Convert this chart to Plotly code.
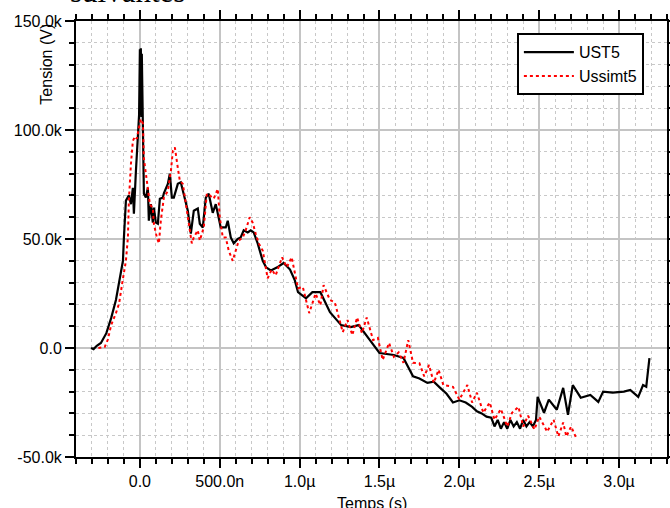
import plotly.graph_objects as go

# time in microseconds, voltage in kV
ust5_t = [-0.306, -0.29, -0.27, -0.244, -0.21, -0.18, -0.15, -0.13, -0.115, -0.106, -0.1, -0.0875,
          -0.069, -0.056, -0.044, -0.0375, -0.025, -0.0125, -0.005, 0.0, 0.003, 0.006, 0.009, 0.012,
          0.019, 0.025, 0.0375, 0.05, 0.056, 0.069, 0.081, 0.0875, 0.1, 0.1125, 0.125, 0.144, 0.15,
          0.175, 0.1875, 0.2, 0.2125, 0.2375, 0.256, 0.275, 0.3, 0.319, 0.3375, 0.3625, 0.375, 0.394,
          0.4125, 0.431, 0.456, 0.475, 0.4875, 0.506, 0.5375, 0.55, 0.569, 0.5875, 0.6125, 0.631, 0.65,
          0.675, 0.694, 0.7125, 0.7375, 0.769, 0.79, 0.82, 0.86, 0.9, 0.94, 0.97, 0.99, 1.04, 1.08,
          1.13, 1.19, 1.26, 1.32, 1.37, 1.44, 1.5, 1.59, 1.65, 1.71, 1.75, 1.8, 1.84, 1.88, 1.92, 1.96,
          2.0, 2.04, 2.08, 2.11, 2.14, 2.17,
          2.2, 2.22, 2.24, 2.26, 2.28, 2.3, 2.32, 2.34, 2.36, 2.38, 2.4, 2.42, 2.44, 2.46, 2.48,
          2.49, 2.53, 2.56, 2.61, 2.65, 2.68, 2.71, 2.76, 2.82, 2.87, 2.9, 2.96, 3.03, 3.07, 3.12,
          3.15, 3.17, 3.19]
ust5_v = [0, -0.5, 1, 2.3, 6.8, 13.7, 22, 31, 36, 40, 50.7, 67.6,
          70, 66, 73.5, 61.6, 81, 96, 107, 137, 110, 137.5, 106, 135,
          108.7, 70.8, 69, 73.5, 58.4, 66, 57.5, 64.4, 57.5, 57, 68.5, 69, 71,
          75.3, 80, 69, 69, 75.3, 76, 70.8, 63, 52.5, 63, 64, 57, 55.3,
          69, 70.8, 62, 66, 61.6, 55.3, 55.3, 58.4, 50.7, 48, 50, 50.7, 54,
          53, 54, 53, 48, 40, 37, 35.6, 37, 39, 36, 31, 25.6, 22.8, 25.6,
          25.6, 16.4, 10.5, 9.6, 10.5, 3.6, -2.3, -3.2, -4.6, -13, -14, -16, -15.5, -18.3, -21, -25,
          -24, -25, -27, -29, -30, -31.5,
          -32, -36, -33, -37, -34, -37, -33, -36, -34, -37, -33, -36, -34, -36, -33,
          -22.4, -29.7, -23.7, -28.3, -18.3, -30.6, -17, -22.8, -21.5, -24.7, -20, -20.5, -20, -19.2, -22.4,
          -17, -17.8, -4.6]

ussimt5_t = [-0.26, -0.22, -0.2, -0.18, -0.15, -0.13, -0.11, -0.0875, -0.075, -0.069, -0.056, -0.044,
             -0.031, -0.019, -0.006, 0.006, 0.019, 0.025, 0.0375, 0.05, 0.0625, 0.081, 0.0875, 0.106,
             0.119, 0.131, 0.15, 0.175, 0.194, 0.206, 0.219, 0.2375, 0.25, 0.269, 0.281, 0.3, 0.3125,
             0.325, 0.3375, 0.3625, 0.375, 0.4, 0.419, 0.4375, 0.4625, 0.4875, 0.5, 0.519, 0.5375, 0.556,
             0.581, 0.6, 0.619, 0.644, 0.6625, 0.6875, 0.706, 0.725, 0.744, 0.769, 0.8, 0.825, 0.85,
             0.89, 0.92, 0.95, 0.99, 1.02, 1.06, 1.1, 1.13, 1.15, 1.19, 1.22, 1.27, 1.3, 1.33, 1.36,
             1.39, 1.42, 1.46, 1.49, 1.52, 1.56, 1.59, 1.62, 1.65, 1.68, 1.71, 1.75, 1.78, 1.81, 1.84,
             1.87, 1.9, 1.96, 2.0, 2.05, 2.08, 2.11, 2.15, 2.19, 2.22, 2.26, 2.3, 2.33, 2.37, 2.4, 2.43,
             2.47, 2.5, 2.55, 2.59, 2.62, 2.65, 2.67, 2.7, 2.73]
ussimt5_v = [0, 0.5, 4, 10.5, 16, 20.5, 30, 40, 50.7, 67.6, 84.5, 95,
             97, 96, 101, 105, 103, 87, 80, 73.5, 66, 64, 57, 50.7,
             48, 58.4, 69, 72, 81, 90.4, 92, 82.6, 76.7, 75.3, 69, 60, 54,
             48, 50.7, 54, 49.3, 55.3, 70.8, 70, 68.5, 73, 60, 50.7, 50.7, 44.7,
             40, 45, 49.3, 50.7, 54, 60, 57.5, 52.5, 48, 44.7, 32, 36, 33.3,
             41.6, 37, 41.6, 27.4, 28, 16, 25, 19.6, 28.8, 22, 21, 7.3, 12.8, 5.9, 14,
             6.8, 14, 3.6, 4.6, -5.5, 2.3, -4, -2, -6.8, 3.6, -6.8, -7, -13, -7.8, -16,
             -10, -17, -17.8, -23.7, -17, -25, -20.5, -29.7, -25, -32.9, -28, -36, -29.7, -27, -36, -31,
             -37.4, -31.5, -38.4, -32.9, -40.6, -34.2, -40.6, -36, -41]

x_tickvals = [0, 0.5, 1.0, 1.5, 2.0, 2.5, 3.0]
x_ticktext = ['0.0', '500.0n', '1.0\u00b5', '1.5\u00b5', '2.0\u00b5', '2.5\u00b5', '3.0\u00b5']
y_tickvals = [-50, 0, 50, 100, 150]
y_ticktext = ['-50.0k', '0.0', '50.0k', '100.0k', '150.0k']

font_family = 'Liberation Sans, Arial, sans-serif'

fig = go.Figure()

fig.add_trace(go.Scatter(x=ust5_t, y=ust5_v, mode='lines', name='UST5',
                         line={'color': 'black', 'width': 2.2}))
fig.add_trace(go.Scatter(x=ussimt5_t, y=ussimt5_v, mode='lines', name='Ussimt5',
                         line={'color': '#ff0000', 'width': 2, 'dash': 'dot'}))

axis_common = dict(
    showline=True, linecolor='black', linewidth=2, mirror='allticks',
    ticks='outside', ticklen=9, tickwidth=1.5, tickcolor='black',
    showgrid=True, gridcolor='#c4c4c4', gridwidth=1.5, zeroline=False,
    automargin=False,
    tickfont={'family': font_family, 'size': 16, 'color': 'black'},
)

fig.update_xaxes(
    range=[-0.4, 3.3], tickvals=x_tickvals, ticktext=x_ticktext,
    minor={'dtick': 0.1, 'tick0': 0, 'ticklen': 5, 'tickcolor': 'black', 'ticks': 'outside',
           'showgrid': True, 'gridcolor': '#c8c8c8', 'griddash': 'dot', 'gridwidth': 1},
    **axis_common
)
fig.update_yaxes(
    range=[-50, 150], tickvals=y_tickvals, ticktext=y_ticktext,
    minor={'dtick': 10, 'tick0': 0, 'ticklen': 5, 'tickcolor': 'black', 'ticks': 'outside',
           'showgrid': True, 'gridcolor': '#c8c8c8', 'griddash': 'dot', 'gridwidth': 1},
    **axis_common
)

fig.update_layout(
    width=670, height=508,
    margin={'l': 76, 'r': 3, 't': 21, 'b': 51, 'autoexpand': False},
    plot_bgcolor='white', paper_bgcolor='white',
    font={'family': font_family, 'size': 16, 'color': 'black'},
    showlegend=True,
    legend={'x': 0.746, 'y': 0.972, 'xanchor': 'left', 'yanchor': 'top',
            'bordercolor': 'black', 'borderwidth': 2, 'bgcolor': 'white',
            'itemwidth': 50,
            'font': {'family': font_family, 'size': 16}},
)

# leftover of the surrounding document text, cut by the top edge
fig.add_annotation(text='suivantes', xref='paper', yref='paper', x=-0.014, y=1.022,
                   xanchor='left', yanchor='bottom', showarrow=False,
                   font={'family': 'Liberation Serif, Times New Roman, serif', 'size': 31})
fig.add_annotation(text='Tension (V)', xref='paper', yref='paper', x=-0.049, y=0.9,
                   xanchor='center', yanchor='middle', textangle=-90, showarrow=False,
                   font={'family': font_family, 'size': 16})
fig.add_annotation(text='Temps (s)', xref='paper', yref='paper', x=0.5, y=-0.106,
                   xanchor='center', yanchor='middle', showarrow=False,
                   font={'family': font_family, 'size': 16})

# no page margin, so the figure sits at the window's top-left corner
fig.write_html('out.html', config={'displayModeBar': False},
               post_script="document.body.style.margin='0';document.body.style.overflow='hidden';")
